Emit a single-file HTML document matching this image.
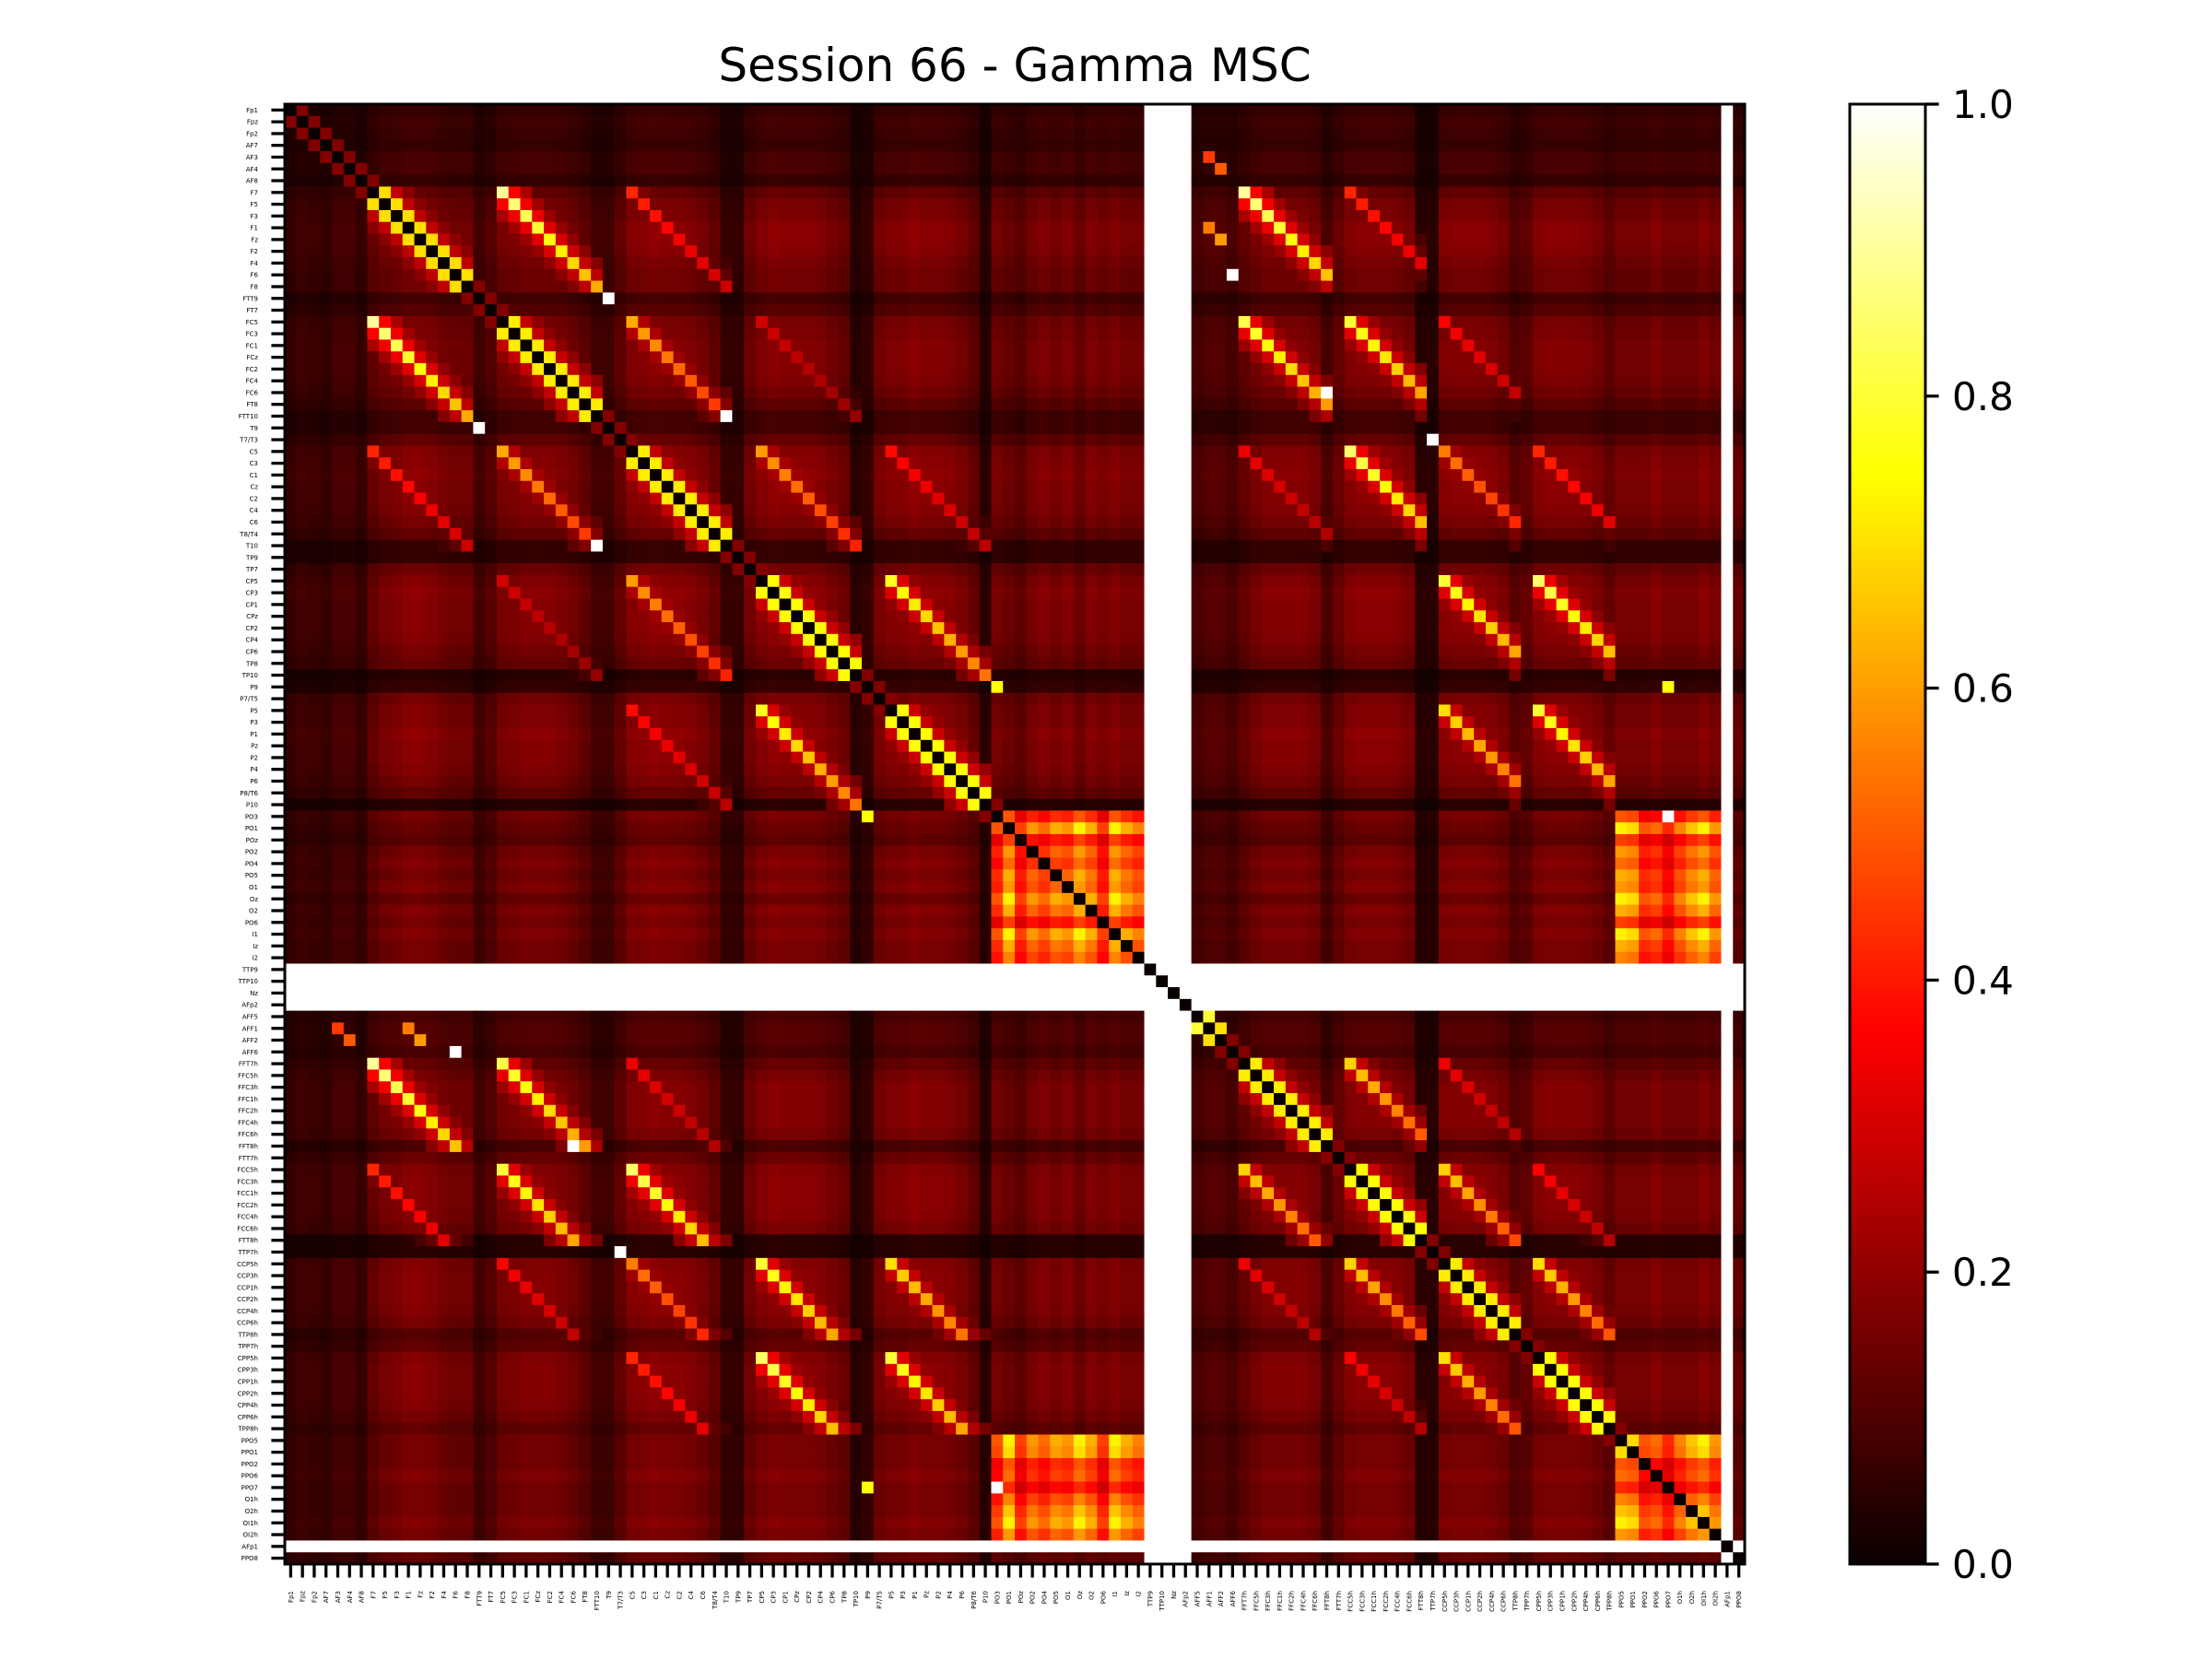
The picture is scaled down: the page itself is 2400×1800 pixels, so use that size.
<!DOCTYPE html>
<html><head><meta charset="utf-8">
<style>
html,body{margin:0;padding:0;background:#fff;}
svg{display:block;font-family:"DejaVu Sans","Liberation Sans",sans-serif;}
</style></head>
<body>
<svg id="fig" width="2400" height="1800" viewBox="0 0 2400 1800" xmlns="http://www.w3.org/2000/svg">
  <defs>
    <linearGradient id="hotgrad" x1="0" y1="1" x2="0" y2="0">
      <stop offset="0" stop-color="rgb(11,0,0)"/>
      <stop offset="0.365" stop-color="rgb(255,0,0)"/>
      <stop offset="0.746" stop-color="rgb(255,255,0)"/>
      <stop offset="1" stop-color="rgb(255,255,255)"/>
    </linearGradient>
  </defs>
  <text x="1101" y="88" font-size="50" text-anchor="middle">Session 66 - Gamma MSC</text>
  <g id="cells"></g>
  <rect x="309" y="113" width="1584" height="1584" fill="none" stroke="#000" stroke-width="3"/>
  <g id="yticks"></g>
  <g id="xticks"></g>
  <g>
    <rect x="2007" y="113" width="82" height="1584" fill="url(#hotgrad)" stroke="#000" stroke-width="3"/>
    <g id="cbticks"></g>
  </g>
</svg>
<script>
const channels = ["Fp1","Fpz","Fp2","AF7","AF3","AF4","AF8","F7","F5","F3","F1","Fz","F2","F4","F6","F8","FTT9","FT7","FC5","FC3","FC1","FCz","FC2","FC4","FC6","FT8","FTT10","T9","T7/T3","C5","C3","C1","Cz","C2","C4","C6","T8/T4","T10","TP9","TP7","CP5","CP3","CP1","CPz","CP2","CP4","CP6","TP8","TP10","P9","P7/T5","P5","P3","P1","Pz","P2","P4","P6","P8/T6","P10","PO3","PO1","POz","PO2","PO4","PO5","O1","Oz","O2","PO6","I1","Iz","I2","TTP9","TTP10","Nz","AFp2","AFF5","AFF1","AFF2","AFF6","FFT7h","FFC5h","FFC3h","FFC1h","FFC2h","FFC4h","FFC6h","FFT8h","FTT7h","FCC5h","FCC3h","FCC1h","FCC2h","FCC4h","FCC6h","FTT8h","TTP7h","CCP5h","CCP3h","CCP1h","CCP2h","CCP4h","CCP6h","TTP8h","TPP7h","CPP5h","CPP3h","CPP1h","CPP2h","CPP4h","CPP6h","TPP8h","PPO5","PPO1","PPO2","PPO6","PPO7","O1h","O2h","OI1h","OI2h","AFp1","PPO8"];

// per-channel background coherence level (null = missing channel)
const baseLevel = [0.07,0.09,0.08,0.07,0.1,0.1,0.07,
 0.14,0.17,0.18,0.2,0.2,0.19,0.17,0.16,0.16,
 0.09,0.12,0.17,0.18,0.19,0.19,0.19,0.18,0.16,0.13,0.09,
 0.09,0.14,0.19,0.2,0.21,0.2,0.2,0.19,0.17,0.14,0.07,
 0.07,0.16,0.19,0.21,0.2,0.2,0.2,0.19,0.17,0.15,0.05,
 0.07,0.17,0.19,0.19,0.21,0.2,0.2,0.19,0.17,0.14,0.05,
 0.17,0.15,0.13,0.17,0.19,0.17,0.19,0.15,0.19,0.17,0.19,0.17,0.17,
 null,null,null,null,
 0.1,0.12,0.12,0.1,
 0.14,0.17,0.19,0.19,0.19,0.19,0.17,0.1,
 0.15,0.19,0.2,0.2,0.2,0.19,0.17,0.05,
 0.05,0.19,0.2,0.2,0.2,0.19,0.17,0.12,
 0.14,0.19,0.2,0.2,0.2,0.19,0.17,0.14,
 0.17,0.17,0.17,0.19,0.17,0.17,0.17,0.19,0.17,
 null,0.14];

// electrode groups (lateral rows) and their first index / length
const groupNames = ["F","FC","C","CP","P","FFC","FCC","CCP","CPP"];
const groupStart = [7,18,29,40,51,81,90,98,106];
const groupLen = [9,9,9,9,9,8,7,7,7];
const groupNeighbor = [0.7,0.72,0.72,0.75,0.75,0.72,0.75,0.72,0.75];

// coupling between groups (peak coherence on stripe)
const couplingA = ["F","F","FC","C","C","CP","FC","F","F","FC","FC","FC","C","C","C","C","CP","CP","P","P","FFC","FCC","CCP","FFC","FCC"];
const couplingB = ["FC","C","C","CP","P","P","CP","FFC","FCC","FFC","FCC","CCP","FFC","FCC","CCP","CPP","CCP","CPP","CCP","CPP","FCC","CCP","CPP","CCP","CPP"];
const couplingVal = [0.9,0.42,0.62,0.6,0.38,0.78,0.3,0.9,0.42,0.82,0.8,0.36,0.34,0.85,0.55,0.42,0.8,0.85,0.7,0.8,0.68,0.68,0.7,0.34,0.36];

// occipital cluster
const occChannels = [60,61,62,63,64,65,66,67,68,69,70,71,72,113,114,115,116,117,118,119,120,121];
const occWeight = [0.55,0.9,0.5,0.7,0.6,0.75,0.7,0.9,0.75,0.5,0.9,0.75,0.65,0.9,0.85,0.55,0.6,0.45,0.65,0.8,0.9,0.7];

// individually bright pairs
const specialI = [16,26,28,14,24,60,49,49,4,5,10,11,77,78];
const specialJ = [27,37,97,80,88,117,60,117,78,79,78,79,78,79];
const specialVal = [1.0,1.0,1.0,1.0,1.0,1.0,0.75,0.75,0.45,0.5,0.55,0.6,0.8,0.7];

const X0 = 309, Y0 = 113, SIZE = 1584;
const N = channels.length;
const cell = SIZE / N;

function hot(v){
  const r = Math.min(1, 0.0416 + (1-0.0416)*v/0.365079);
  const g = Math.max(0, Math.min(1, (v-0.365079)/(0.746032-0.365079)));
  const b = Math.max(0, Math.min(1, (v-0.746032)/(1-0.746032)));
  return "rgb(" + Math.round(r*255) + "," + Math.round(g*255) + "," + Math.round(b*255) + ")";
}

function groupOf(i){
  for (let g = 0; g < groupStart.length; g++){
    if (i >= groupStart[g] && i < groupStart[g] + groupLen[g]) return [g, i - groupStart[g]];
  }
  return null;
}
function coupling(ga, gb){
  const a = groupNames[ga], b = groupNames[gb];
  for (let k = 0; k < couplingA.length; k++){
    if ((couplingA[k] === a && couplingB[k] === b) || (couplingA[k] === b && couplingB[k] === a)) return couplingVal[k];
  }
  return 0;
}

function value(i, j){
  if (i === j) return 0;
  const bi = baseLevel[i], bj = baseLevel[j];
  if (bi === null || bj === null) return null;
  let v = bi * bj / 0.21;
  const gi = groupOf(i), gj = groupOf(j);
  if (gi && gj){
    const dk = Math.abs(gi[1] - gj[1]);
    if (gi[0] === gj[0]){
      const nb = groupNeighbor[gi[0]];
      if (dk === 1) v = Math.max(v, nb);
      else if (dk === 2) v = Math.max(v, nb * 0.38);
      else if (dk === 3) v = Math.max(v, nb * 0.27);
    } else {
      const fade = 1 - 0.35 * Math.min(gi[1], gj[1]) / Math.max(groupLen[gi[0]], groupLen[gj[0]]);
      const c = coupling(gi[0], gj[0]) * fade;
      if (dk === 0) v = Math.max(v, c);
      else if (dk === 1) v = Math.max(v, c * 0.4);
      else if (dk === 2) v = Math.max(v, c * 0.26);
    }
  } else if (Math.abs(i - j) === 1){
    v = Math.max(v, 0.18);
  }
  const oi = occChannels.indexOf(i), oj = occChannels.indexOf(j);
  if (oi >= 0 && oj >= 0){
    v = Math.max(v, 0.12 + 0.75 * occWeight[oi] * occWeight[oj]);
  }
  for (let k = 0; k < specialI.length; k++){
    if ((specialI[k] === i && specialJ[k] === j) || (specialI[k] === j && specialJ[k] === i)) v = Math.max(v, specialVal[k]);
  }
  return Math.min(1, v);
}

const NS = "http://www.w3.org/2000/svg";
const cellsG = document.getElementById("cells");
for (let i = 0; i < N; i++){
  for (let j = 0; j < N; j++){
    const v = value(i, j);
    const r = document.createElementNS(NS, "rect");
    r.setAttribute("x", (X0 + j*cell).toFixed(2));
    r.setAttribute("y", (Y0 + i*cell).toFixed(2));
    r.setAttribute("width", (cell + 0.6).toFixed(2));
    r.setAttribute("height", (cell + 0.6).toFixed(2));
    r.setAttribute("fill", v === null ? "#ffffff" : hot(v));
    
    
    cellsG.appendChild(r);
  }
}

const yG = document.getElementById("yticks");
const xG = document.getElementById("xticks");
for (let i = 0; i < N; i++){
  const c = Y0 + (i + 0.5) * cell;
  const t = document.createElementNS(NS, "line");
  t.setAttribute("x1", X0 - 14.6); t.setAttribute("x2", X0);
  t.setAttribute("y1", c); t.setAttribute("y2", c);
  t.setAttribute("stroke", "#000"); t.setAttribute("stroke-width", "3.3");
  
  
  yG.appendChild(t);
  const l = document.createElementNS(NS, "text");
  l.setAttribute("x", X0 - 29); l.setAttribute("y", c + 2.5);
  l.setAttribute("font-size", "7"); l.setAttribute("text-anchor", "end");
  l.textContent = channels[i];
  
  
  yG.appendChild(l);

  const cx = X0 + (i + 0.5) * cell;
  const tx = document.createElementNS(NS, "line");
  tx.setAttribute("x1", cx); tx.setAttribute("x2", cx);
  tx.setAttribute("y1", Y0 + SIZE); tx.setAttribute("y2", Y0 + SIZE + 14.6);
  tx.setAttribute("stroke", "#000"); tx.setAttribute("stroke-width", "3.3");
  
  
  xG.appendChild(tx);
  const lx = document.createElementNS(NS, "text");
  const ly = Y0 + SIZE + 29;
  lx.setAttribute("x", cx + 2.5); lx.setAttribute("y", ly);
  lx.setAttribute("font-size", "7"); lx.setAttribute("text-anchor", "end");
  lx.setAttribute("transform", "rotate(-90 " + (cx + 2.5) + " " + ly + ")");
  lx.textContent = channels[i];
  
  
  xG.appendChild(lx);
}

const cbTickValues = [0.0, 0.2, 0.4, 0.6, 0.8, 1.0];
const cbTickLabels = ["0.0","0.2","0.4","0.6","0.8","1.0"];
const cbG = document.getElementById("cbticks");
for (let k = 0; k < cbTickValues.length; k++){
  const y = Y0 + SIZE - cbTickValues[k] * SIZE;
  const t = document.createElementNS(NS, "line");
  t.setAttribute("x1", 2089); t.setAttribute("x2", 2089 + 14.6);
  t.setAttribute("y1", y); t.setAttribute("y2", y);
  t.setAttribute("stroke", "#000"); t.setAttribute("stroke-width", "3.3");
  
  
  cbG.appendChild(t);
  const l = document.createElementNS(NS, "text");
  l.setAttribute("x", 2118); l.setAttribute("y", y + 15);
  l.setAttribute("font-size", "42");
  l.textContent = cbTickLabels[k];
  
  
  cbG.appendChild(l);
}
</script>
</body></html>
